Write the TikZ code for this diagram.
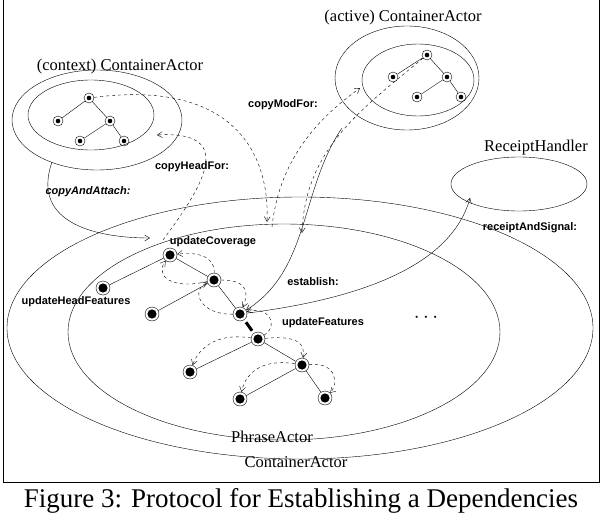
\documentclass[tikz,border=0pt]{standalone}
\usepackage{fontspec}
\setmainfont{Liberation Serif}
\newfontfamily\lab{Liberation Sans}
\usetikzlibrary{arrows.meta}
\begin{document}
\begin{tikzpicture}[x=1pt,y=-1pt,
  tn/.style={circle,draw,inner sep=0pt,minimum size=14pt,path picture={\fill (path picture bounding box.center) circle (4.6pt);}},
  sn/.style={circle,draw,inner sep=0pt,minimum size=10pt,path picture={\fill (path picture bounding box.center) circle (2.3pt);}},
  lb/.style={font=\lab\bfseries\fontsize{11}{12}\selectfont},
  ti/.style={font=\fontsize{16.5}{18}\selectfont},
  da/.style={dashed,-{Straight Barb[length=5pt,width=6pt]}},
  so/.style={-{Straight Barb[length=5pt,width=6pt]}}]
\useasboundingbox (0,0) rectangle (602,516);
\draw (3,-1) rectangle (599,482);
% containers
\draw (300,328) ellipse [x radius=293,y radius=131];
\draw (284,332) ellipse [x radius=216,y radius=108];
\node[ti] (pa) at (272,437) {PhraseActor};
\node[ti] (ca) at (296,462) {ContainerActor};
\draw (97,120) ellipse [x radius=85,y radius=50];
\draw (91,115) ellipse [x radius=63,y radius=35];
\node[ti] (cl) at (120,67) {(context) ContainerActor};
\draw (407,78) ellipse [x radius=72,y radius=52];
\draw (418,80) ellipse [x radius=56,y radius=36];
\node[ti] (al) at (403,18) {(active) ContainerActor};
\draw (519,184) ellipse [x radius=68,y radius=27];
\node[ti] (rh) at (536,148) {ReceiptHandler};
% context tree
\node[sn] (c1) at (89,98) {}; \node[sn] (c2) at (58,121) {}; \node[sn] (c3) at (110,121) {};
\node[sn] (c4) at (80,141) {}; \node[sn] (c5) at (124,141) {};
\draw (c1)--(c2) (c1)--(c3) (c3)--(c4) (c3)--(c5);
% active tree
\node[sn] (a1) at (427,55) {}; \node[sn] (a2) at (393,77) {}; \node[sn] (a3) at (447,77) {};
\node[sn] (a4) at (417,97) {}; \node[sn] (a5) at (461,97) {};
\draw (a1)--(a2) (a1)--(a3) (a3)--(a4) (a3)--(a5);
% main tree
\node[tn] (m1) at (170,255) {}; \node[tn] (m2) at (214,280) {}; \node[tn] (m3) at (240,314) {};
\node[tn] (m4) at (258,339) {}; \node[tn] (m5) at (190,372) {}; \node[tn] (m6) at (302,365) {};
\node[tn] (m7) at (240,399) {}; \node[tn] (m8) at (325,398) {}; \node[tn] (m9) at (103,288) {};
\node[tn] (m10) at (152,314) {};
\draw (m9)--(m1) (m1)--(m2) (m2)--(m10) (m2)--(m3) (m4)--(m5) (m4)--(m6) (m6)--(m7) (m6)--(m8);
\draw[line width=3pt,shorten <=3pt,shorten >=3pt] (m3)--(m4);
% labels
\node[lb] (l1) at (213,242) {updateCoverage};
\node[lb] (l2) at (76,302) {updateHeadFeatures};
\node[lb] (l3) at (313,282) {establish:};
\node[lb] (l4) at (323,323) {updateFeatures};
\node[lb] (l5) at (192,167) {copyHeadFor:};
\node[lb,font=\lab\bfseries\itshape\fontsize{11}{12}\selectfont] (l6) at (88,192) {copyAndAttach:};
\node[lb] (l7) at (283,105) {copyModFor:};
\node[lb] (l8) at (530,228) {receiptAndSignal:};
\node[font=\fontsize{20}{20}\selectfont] (dots) at (426,318) {$\cdots$};
% connectors
\coordinate (ctxb) at (52,162);
\coordinate (phtop) at (150,238);
\draw[so] (ctxb) .. controls (30,225) and (100,238) .. (phtop);
\coordinate (chf) at (163,240);
\coordinate (chfe) at (157,135);
\draw[da] (chf) .. controls (200,190) and (240,130) .. (chfe);
\coordinate (cre) at (267,222);
\draw[da] (c1) .. controls (230,80) and (270,150) .. (cre);
\coordinate (cmf) at (272,227);
\coordinate (cmfe) at (360,88);
\draw[da] (cmf) .. controls (280,150) and (330,110) .. (cmfe);
\coordinate (a1e) at (302,233);
\draw[da] (a1) .. controls (360,110) and (305,150) .. (a1e);
\coordinate (est) at (342,128);
\draw[so] (est) .. controls (300,190) and (310,270) .. (m3);
\coordinate (rh1) at (470,198);
\draw[so] (m3) .. controls (350,300) and (450,270) .. (rh1);
% local dashed protocol arrows
\draw[da] (m2) .. controls (215,255) and (195,252) .. (m1);
\draw[da] (m2) .. controls (170,290) and (155,275) .. (m1);
\draw[da] (m3) .. controls (200,315) and (190,290) .. (m2);
\draw[da] (m2) .. controls (250,280) and (248,295) .. (m3);
\draw[da] (m4) .. controls (280,325) and (268,305) .. (m3);
\draw[da] (m4) .. controls (220,333) and (200,345) .. (m5);
\draw[da] (m4) .. controls (300,335) and (305,345) .. (m6);
\draw[da] (m6) .. controls (260,358) and (245,375) .. (m7);
\draw[da] (m6) .. controls (338,362) and (338,385) .. (m8);
\node[font=\fontsize{27}{30}\selectfont] (cap) at (301,501) {Figure 3: Protocol for Establishing a Dependencies};
\end{tikzpicture}
\end{document}
